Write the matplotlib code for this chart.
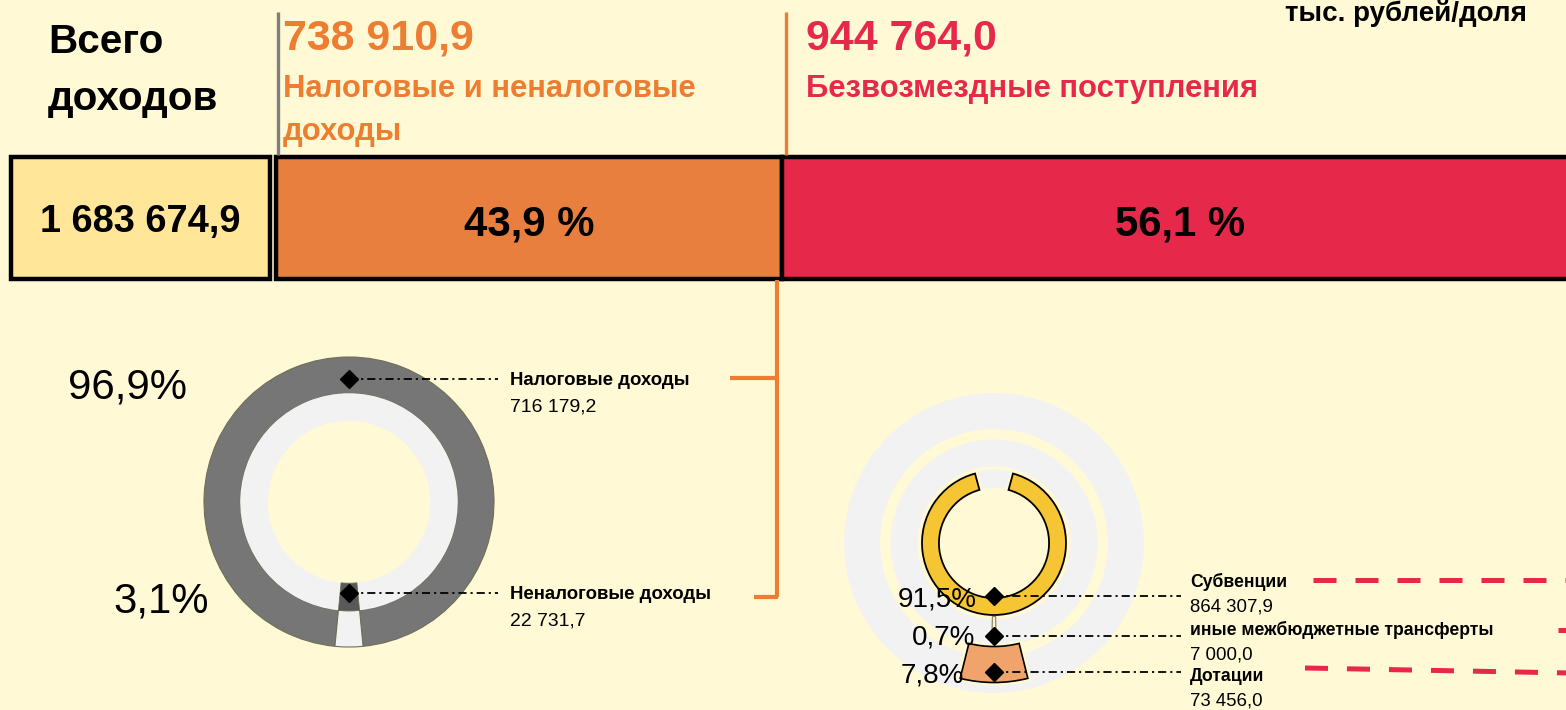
import matplotlib
matplotlib.use('Agg')
import matplotlib.pyplot as plt
import numpy as np
from matplotlib.patches import Wedge
import matplotlib.patheffects as pe

plt.rcParams['font.family'] = ['Liberation Sans', 'DejaVu Sans']

# ---------------- data ----------------
total_title = ['Всего', 'доходов']
total_value = 1683674.9
group_names = [['Налоговые и неналоговые', 'доходы'], ['Безвозмездные поступления']]
group_values = [738910.9, 944764.0]
group_shares = [43.9, 56.1]
unit_label = 'тыс. рублей/доля'

own_names = ['Налоговые доходы', 'Неналоговые доходы']
own_values = [716179.2, 22731.7]
own_shares = [96.9, 3.1]

transfer_names = ['Субвенции', 'иные межбюджетные трансферты', 'Дотации']
transfer_values = [864307.9, 7000.0, 73456.0]
transfer_shares = [91.5, 0.7, 7.8]

# ---------------- style ----------------
BG = '#FFF9D6'
ORANGE = '#ED7D31'
ORANGE_BOX = '#E97F3F'
RED = '#E6294B'
YELLOW_BOX = '#FFE699'
W, H = 1566, 710


def fmt_num(v):
    return f'{v:,.1f}'.replace(',', ' ').replace('.', ',')


def fmt_pct(v, space=''):
    return f'{v:.1f}'.replace('.', ',') + space + '%'


fig = plt.figure(figsize=(W / 100, H / 100), dpi=100, facecolor=BG)
renderer = fig.canvas.get_renderer()


def fit_size(s, width, weight='normal'):
    t = fig.text(0, 0, s, fontsize=20, fontweight=weight)
    w = t.get_window_extent(renderer).width
    t.remove()
    return 20 * width / w


def donut_axes(cx, cy, R):
    a = fig.add_axes([(cx - R) / W, (H - cy - R) / H, 2 * R / W, 2 * R / H])
    a.set_xlim(-1, 1)
    a.set_ylim(-1, 1)
    a.axis('off')
    a.patch.set_alpha(0)
    return a


def seg(a, share, center_deg, r_out, r_in, **kw):
    half = share * 1.8
    w = Wedge((0, 0), r_out, center_deg - half, center_deg + half,
              width=r_out - r_in, clip_on=False, **kw)
    a.add_patch(w)
    return w


# ---------------- left donut ----------------
LCX, LCY, LR = 349, 502, 145
axL = donut_axes(LCX, LCY, LR)
own_angles = [90, -90]
EDGE = '#6F6F55'
seg(axL, own_shares[0], own_angles[0], 1.0, 0.75, fc='#767676', ec=EDGE, lw=0.8)
seg(axL, own_shares[1], own_angles[1], 1.0, 0.75, fc='#F2F2F2', ec=EDGE, lw=0.8)
seg(axL, own_shares[0], own_angles[0], 0.75, 0.56, fc='#F2F2F2', ec='none')
seg(axL, own_shares[1], own_angles[1], 0.75, 0.56, fc='#595959', ec=EDGE, lw=0.6)

# ---------------- right donut ----------------
RCX, RCY, RR = 994, 543, 150
axR = donut_axes(RCX, RCY, RR)
GRAY = '#F2F2F2'
seg(axR, 100, 90, 1.0, 0.76, fc=GRAY, ec='none')
seg(axR, 100, 90, 0.69, 0.51, fc=GRAY, ec='none')
seg(axR, 100, 90, 0.49, 0.367, fc=GRAY, ec='none')
halo = [pe.Stroke(linewidth=4.5, foreground=BG), pe.Normal()]
transfer_angles = [-90, -90, -90]
seg(axR, transfer_shares[0], transfer_angles[0], 0.48, 0.367, fc='#F5C533',
    ec='black', lw=1.3, path_effects=halo)
seg(axR, transfer_shares[1], transfer_angles[1], 0.64, 0.49, fc='#FFF4D0',
    ec='#8A7A60', lw=0.8)
seg(axR, transfer_shares[2], transfer_angles[2], 0.93, 0.69, fc='#F0A36B',
    ec='black', lw=1.2, path_effects=halo)

# ---------------- main overlay axes ----------------
ax = fig.add_axes([0, 0, 1, 1])
ax.set_xlim(0, W)
ax.set_ylim(H, 0)
ax.axis('off')
ax.patch.set_alpha(0)

# header boxes
box_left = [11, 276, 782]
box_right = [270, 782, 1578]
box_colors = [YELLOW_BOX, ORANGE_BOX, RED]
BOX_Y, BOX_H = 218, 122
ax.barh([BOX_Y] * 3, np.subtract(box_right, box_left), left=box_left,
        height=BOX_H, color=box_colors, edgecolor='black', linewidth=3.2, zorder=2)
centers = [(l + r) / 2 for l, r in zip(box_left, box_right)]

fs_total = fit_size(fmt_num(total_value), 201, 'bold')
ax.text(centers[0], 232, fmt_num(total_value), ha='center', va='baseline',
        fontsize=fs_total, fontweight='bold', zorder=3)
fs_share = fit_size(fmt_pct(group_shares[0], ' '), 131, 'bold')
for c, s in zip(centers[1:], group_shares):
    ax.text(c, 235, fmt_pct(s, ' '), ha='center', va='baseline',
            fontsize=fs_share, fontweight='bold', zorder=3)

# title texts
fs_t1 = fit_size(total_title[0], 112, 'bold')
fs_t2 = fit_size(total_title[1], 174, 'bold')
fs_title = (fs_t1 + fs_t2) / 2
ax.text(48, 53, total_title[0], fontsize=fs_title, fontweight='bold', va='baseline')
ax.text(48, 110, total_title[1], fontsize=fs_title, fontweight='bold', va='baseline')

fs_gval = fit_size(fmt_num(group_values[0]), 191, 'bold')
fs_gname = fit_size(group_names[0][0], 413, 'bold')
group_x = [283, 806]
group_colors = [ORANGE, RED]
for gx, v, names, col in zip(group_x, group_values, group_names, group_colors):
    ax.text(gx, 49, fmt_num(v), fontsize=fs_gval, fontweight='bold', color=col,
            va='baseline')
    for k, nm in enumerate(names):
        ax.text(gx, 97 + 43 * k, nm, fontsize=fs_gname, fontweight='bold',
                color=col, va='baseline')

fs_unit = fit_size(unit_label, 242, 'bold')
ax.text(1285, 21, unit_label, fontsize=fs_unit, fontweight='bold', va='baseline')

# separators
ax.plot([278, 278], [12, 155], color='#7F7F7F', lw=2.4, solid_capstyle='butt')
ax.plot([786, 786], [12, 155], color=ORANGE, lw=2.4, solid_capstyle='butt')

# bracket
ax.plot([777, 777], [280, 597], color=ORANGE, lw=3, solid_capstyle='butt')
ax.plot([730, 778], [378, 378], color=ORANGE, lw=3, solid_capstyle='butt')
ax.plot([754, 778], [597, 597], color=ORANGE, lw=3, solid_capstyle='butt')

LEADER = dict(color='black', lw=1.3, linestyle=(0, (4.5, 2.2, 1.2, 2.2)))


def pix(cx, cy, R, ang, r):
    t = np.deg2rad(ang)
    return cx + R * r * np.cos(t), cy - R * r * np.sin(t)


# left donut annotations
own_label_r = [0.85, 0.63]
own_name_base = [385, 599]
fs_lname = fit_size(own_names[1], 202, 'bold')
fs_lval = fit_size(fmt_num(own_values[0]), 86)
for ang, rr, nm, val, yb in zip(own_angles, own_label_r, own_names, own_values,
                                own_name_base):
    px, py = pix(LCX, LCY, LR, ang, rr)
    ax.plot([px, 498], [py, py], **LEADER, zorder=4)
    ax.plot(px, py, marker='D', color='black', ms=9, zorder=5)
    ax.text(510, yb, nm, fontsize=fs_lname, fontweight='bold', va='baseline')
    ax.text(510, yb + 26, fmt_num(val), fontsize=fs_lval, va='baseline')

fs_lpct = fit_size(fmt_pct(own_shares[0]), 119)
ax.text(68, 398, fmt_pct(own_shares[0]), fontsize=fs_lpct, va='baseline')
ax.text(113, 612, fmt_pct(own_shares[1]), fontsize=fs_lpct, va='baseline')

# right donut annotations
tr_label_r = [0.35, 0.62, 0.86]
tr_name_base = [587, 635, 681]
tr_pct_x = [977, 975, 964]
tr_pct_base = [607, 645, 683]
fs_rname = fit_size(transfer_names[1], 303, 'bold')
fs_rval = fit_size(fmt_num(transfer_values[0]), 83)
fs_rpct = fit_size(fmt_pct(transfer_shares[0]), 79)
for ang, rr, nm, val, yb, sh, pxx, pyb in zip(transfer_angles, tr_label_r,
                                             transfer_names, transfer_values,
                                             tr_name_base, transfer_shares,
                                             tr_pct_x, tr_pct_base):
    px, py = pix(RCX, RCY, RR, ang, rr)
    ax.text(pxx, pyb, fmt_pct(sh), fontsize=fs_rpct, ha='right', va='baseline',
            zorder=3)
    ax.plot([px, 1181], [py, py], **LEADER, zorder=4)
    ax.plot(px, py, marker='D', color='black', ms=9, zorder=5)
    ax.text(1190, yb, nm, fontsize=fs_rname, fontweight='bold', va='baseline')
    ax.text(1190, yb + 24, fmt_num(val), fontsize=fs_rval, va='baseline')

# red dashed connectors
DASH = dict(color=RED, lw=3.6, dashes=(4.6, 3.8), dash_capstyle='butt')
ax.plot([1313, 1570], [580, 580], **DASH)
ax.plot([1558, 1570], [630, 630], **DASH)
ax.plot([1305, 1570], [668, 673], **DASH)

fig.savefig('out.png', dpi=100, facecolor=BG)
